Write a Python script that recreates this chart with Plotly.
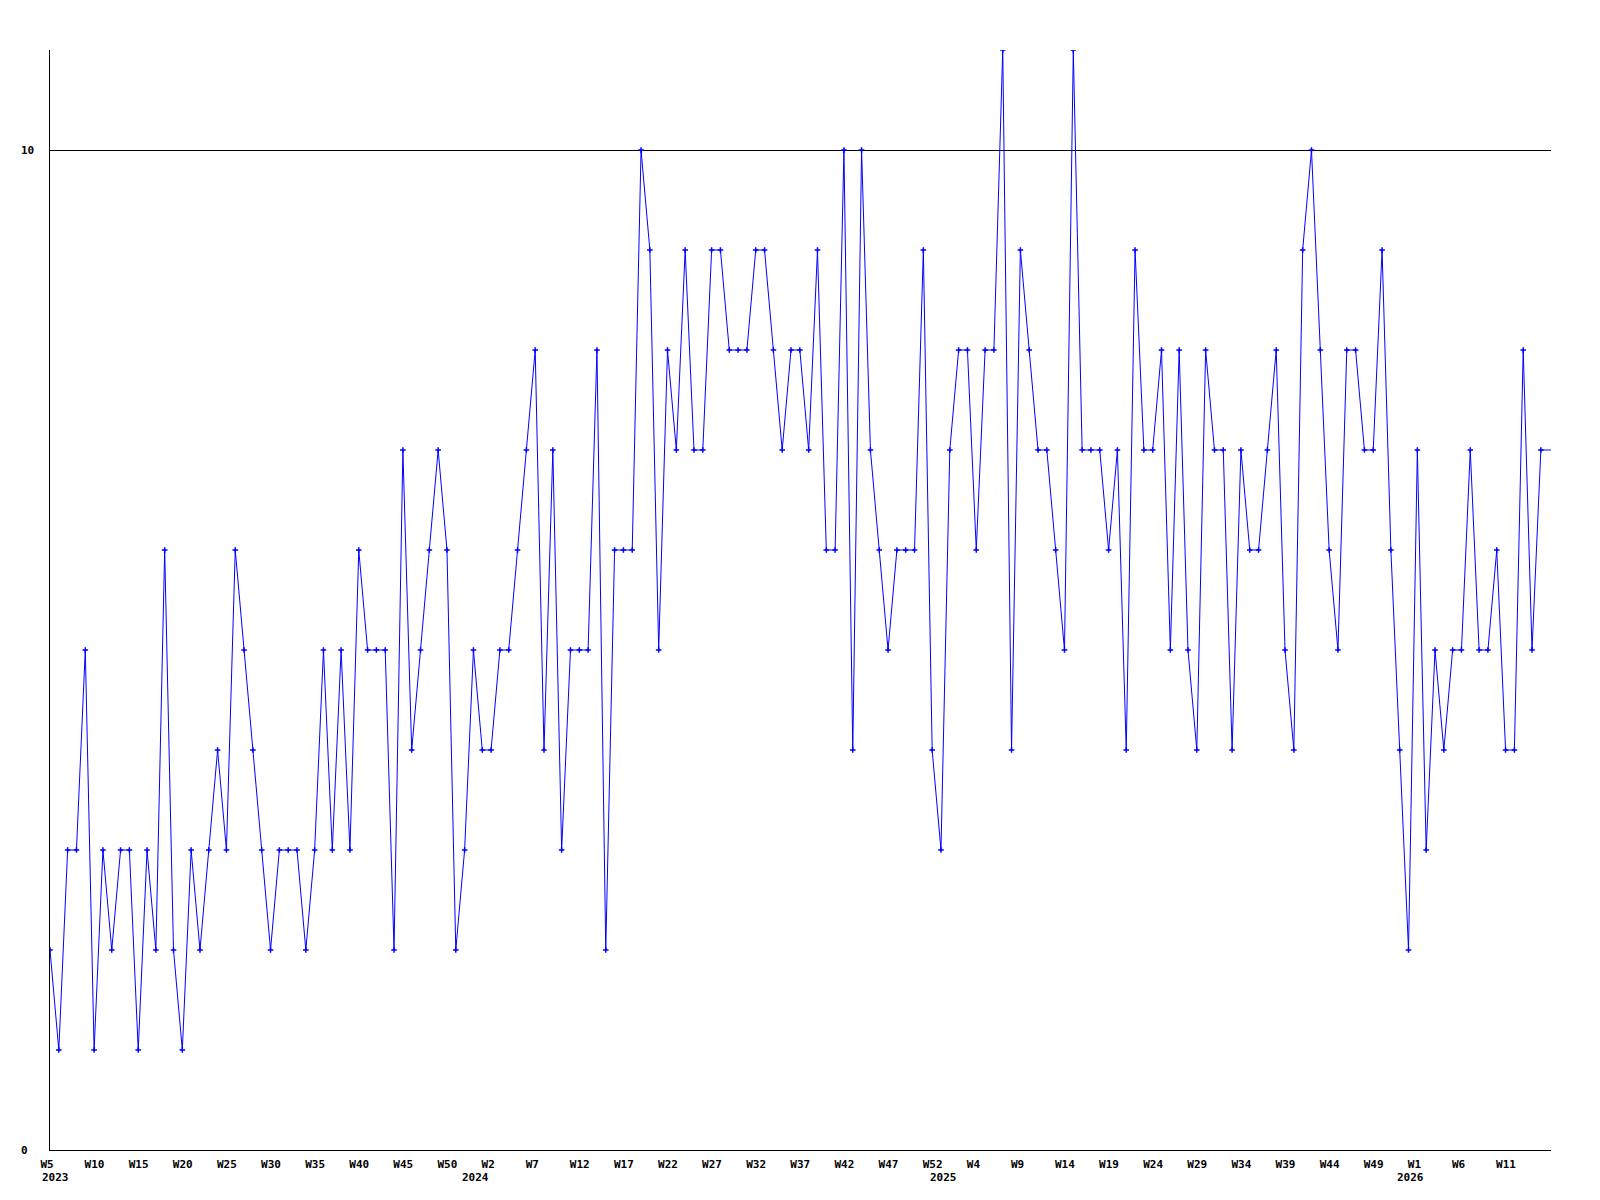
import plotly.graph_objects as go

# Weekly values, starting 2023 W5
values = [
    2, 1, 3, 3, 5, 1, 3, 2, 3, 3,
    1, 3, 2, 6, 2, 1, 3, 2, 3, 4,
    3, 6, 5, 4, 3, 2, 3, 3, 3, 2,
    3, 5, 3, 5, 3, 6, 5, 5, 5, 2,
    7, 4, 5, 6, 7, 6, 2, 3, 5, 4,
    4, 5, 5, 6, 7, 8, 4, 7, 3, 5,
    5, 5, 8, 2, 6, 6, 6, 10, 9, 5,
    8, 7, 9, 7, 7, 9, 9, 8, 8, 8,
    9, 9, 8, 7, 8, 8, 7, 9, 6, 6,
    10, 4, 10, 7, 6, 5, 6, 6, 6, 9,
    4, 3, 7, 8, 8, 6, 8, 8, 11, 4,
    9, 8, 7, 7, 6, 5, 11, 7, 7, 7,
    6, 7, 4, 9, 7, 7, 8, 5, 8, 5,
    4, 8, 7, 7, 4, 7, 6, 6, 7, 8,
    5, 4, 9, 10, 8, 6, 5, 8, 8, 7,
    7, 9, 6, 4, 2, 7, 3, 5, 4, 5,
    5, 7, 5, 5, 6, 4, 4, 8, 5, 7,
]

start_year = 2023
start_week = 5
weeks_per_year = 53
tick_every = 5
y_ticks = [0, 10]
y_max = 11

# Build week categories
years, weeks = [], []
yr, wk = start_year, start_week
for _ in values:
    years.append(yr)
    weeks.append(wk)
    wk += 1
    if wk > weeks_per_year:
        wk = 1
        yr += 1

idx = list(range(len(values)))
tick_idx = idx[::tick_every]
tick_text = [f"W{weeks[i]}" for i in tick_idx]

x_end = len(values) - 1 + 1.15

FONT = dict(family="DejaVu Sans Mono", size=11, color="black", weight="bold")

fig = go.Figure()
fig.add_trace(go.Scatter(
    x=idx, y=values, mode="lines+markers",
    line=dict(color="#0000FF", width=1),
    marker=dict(symbol="cross-thin", size=4, color="#0000FF",
                line=dict(color="#0000FF", width=1.5)),
    hoverinfo="x+y", showlegend=False,
))
# continuation of the last value to the axis end
fig.add_trace(go.Scatter(
    x=[idx[-1], x_end], y=[values[-1], values[-1]], mode="lines",
    line=dict(color="#0000FF", width=1), showlegend=False, hoverinfo="skip",
))

# Year labels
for i in idx:
    if i == 0 or weeks[i] == 1:
        first = i == 0
        fig.add_annotation(
            x=i, y=0, xref="x", yref="paper",
            text=str(years[i]), showarrow=False,
            xanchor="left" if first else "center",
            xshift=-10.5 if first else -6.6,
            yanchor="top", yshift=-19,
            font=FONT,
        )

# Y tick labels, left aligned
for v in y_ticks:
    fig.add_annotation(
        x=0, y=v, xref="paper", yref="y", text=str(v), showarrow=False,
        xanchor="left", yanchor="middle", xshift=-31, font=FONT,
    )

fig.update_layout(
    width=1600, height=1200,
    margin=dict(l=42, r=57, t=42, b=58, autoexpand=False),
    paper_bgcolor="white", plot_bgcolor="white",
    xaxis=dict(
        range=[0, x_end], tickmode="array", tickvals=tick_idx, ticktext=tick_text,
        showgrid=False, zeroline=False, showline=True, linecolor="black", linewidth=1,
        ticks="", tickfont=FONT, ticklabelposition="outside right",
        ticklabelshift=-10, ticklabelstandoff=4,
    ),
    yaxis=dict(
        range=[0, y_max], tickmode="array", tickvals=y_ticks,
        showgrid=True, gridcolor="black", gridwidth=1, zeroline=False,
        showline=True, linecolor="black", linewidth=1,
        ticks="", showticklabels=False,
    ),
)

fig.write_html("out.html")
